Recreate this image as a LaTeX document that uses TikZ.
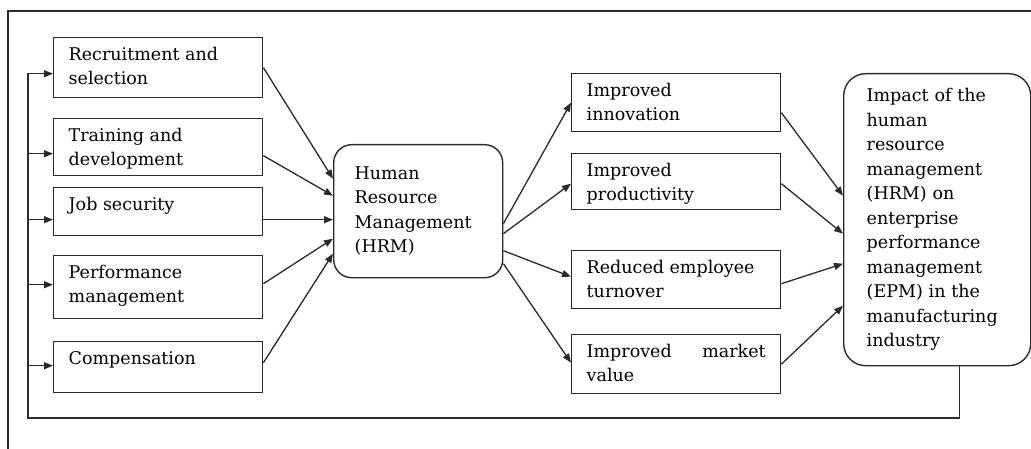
\documentclass[tikz,border=0pt]{standalone}
\usepackage{fontspec}
\setmainfont{DejaVu Serif}
\usepackage{tikz}
\usetikzlibrary{arrows.meta,positioning}
\usepackage{xcolor}

\definecolor{LineGray}{HTML}{2A2A2A}

\tikzset{
    % Base box style
    basebox/.style={
        draw=LineGray,
        line width=1.4pt,
        anchor=north west,
        font=\fontsize{17.5pt}{24.5pt}\selectfont
    },
    % Factor and outcome boxes, text at the top
    factorbox/.style={
        basebox,
        text width=179pt,
        inner xsep=15pt,
        inner ysep=9pt,
        text height=13.5pt,
        align=justify
    },
    % Central HRM box
    hrmnode/.style={
        basebox,
        rounded corners=18pt,
        text width=127pt,
        inner xsep=21pt,
        minimum height=133pt,
        align=left
    },
    % Impact box on the right
    impactnode/.style={
        basebox,
        rounded corners=22pt,
        text width=141pt,
        inner xsep=23pt,
        minimum height=292pt,
        align=left
    },
    % Arrow style
    flow/.style={
        -{Triangle[length=9pt,width=7pt]},
        line width=1.3pt,
        draw=LineGray
    },
    % Outer frame
    framestyle/.style={
        line width=1.3pt,
        draw=LineGray
    }
}

\begin{document}
\begin{tikzpicture}[x=1pt,y=-1pt]
    \useasboundingbox (0,0) rectangle (1031,449);
    \draw[framestyle] (8,449) -- (8,11) -- (1031,11);

    % HRM practices
    \node[factorbox,text depth=28.5pt] (l1) at (53,37) {Recruitment and\\selection};
    \node[factorbox,text depth=25.5pt] (l2) at (53,118) {Training and\\development};
    \node[factorbox,text depth=16.5pt] (l3) at (53,187) {Job security};
    \node[factorbox,text depth=31.5pt] (l4) at (53,255) {Performance\\management};
    \node[factorbox,text depth=19.5pt] (l5) at (53,341) {Compensation};

    % HRM
    \node[hrmnode] (hrm) at (333,144) {Human\\Resource\\Management\\(HRM)};

    % outcomes
    \node[factorbox,text depth=26.5pt] (r1) at (571,73) {Improved\\innovation};
    \node[factorbox,text depth=24.5pt] (r2) at (571,153) {Improved\\productivity};
    \node[factorbox,text depth=26.5pt] (r3) at (571,250) {Reduced employee\\turnover};
    \node[factorbox,text depth=27.5pt] (r4) at (571,334) {Improved \hfill market\\value};

    % impact
    \node[impactnode] (imp) at (843,73) {Impact of the\\human\\resource\\management\\(HRM) on\\enterprise\\performance\\management\\(EPM) in the\\manufacturing\\industry};

    % practices into HRM
    \draw[flow] (l1.east) -- ([yshift=32.5pt]hrm.west);
    \draw[flow] ([yshift=-8.5pt]l2.east) -- ([yshift=15.5pt]hrm.west);
    \draw[flow] ([yshift=-8pt]l3.east) -- ([yshift=-8.5pt]hrm.west);
    \draw[flow] ([yshift=3.5pt]l4.east) -- ([yshift=-27.5pt]hrm.west);
    \draw[flow] ([yshift=4.5pt]l5.east) -- ([yshift=-42.5pt]hrm.west);

    % HRM into outcomes
    \draw[flow] ([yshift=-12.5pt]hrm.east) -- (r1.west);
    \draw[flow] ([yshift=-22.5pt]hrm.east) -- ([yshift=-2pt]r2.west);
    \draw[flow] ([yshift=-39.5pt]hrm.east) -- ([yshift=3pt]r3.west);
    \draw[flow] ([yshift=-52.5pt]hrm.east) -- ([yshift=1.5pt]r4.west);

    % outcomes into impact
    \draw[flow] ([yshift=-10pt]r1.east) -- ([yshift=24pt]imp.west);
    \draw[flow] ([yshift=-2pt]r2.east) -- ([yshift=-14pt]imp.west);
    \draw[flow] ([yshift=-4pt]r3.east) -- ([yshift=-44pt]imp.west);
    \draw[flow] (r4.east) -- ([yshift=-86pt]imp.west);

    % feedback loop
    \coordinate (bus) at (28,418);
    \coordinate (in1) at ([yshift=-6pt]l1.west);
    \coordinate (in2) at ([yshift=-6.5pt]l2.west);
    \coordinate (in3) at ([yshift=-8pt]l3.west);
    \coordinate (in4) at ([yshift=2.5pt]l4.west);
    \coordinate (in5) at ([yshift=1.5pt]l5.west);
    \draw[flow] ([xshift=22.5pt]imp.south) |- (bus) |- (in1);
    \foreach \i in {2,...,5}
        \draw[flow] (in\i -| bus) -- (in\i);
\end{tikzpicture}
\end{document}
